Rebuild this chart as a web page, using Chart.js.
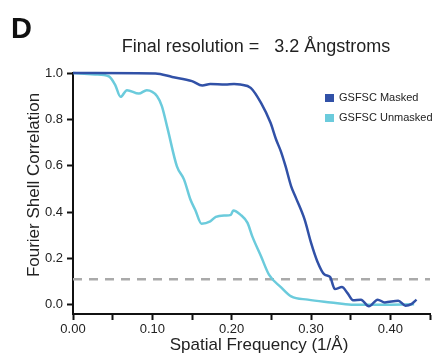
<!DOCTYPE html>
<html>
<head>
<meta charset="utf-8">
<script src="https://cdn.jsdelivr.net/npm/chart.js@4.4.1/dist/chart.umd.min.js"></script>
<style>
    html, body { margin: 0; padding: 0; background: #fff; }
    #chartBox { width: 434px; height: 355px; position: relative; }
</style>
</head>
<body>
<div id="chartBox"><canvas id="fscChart"></canvas></div>
<script>
// FSC curves
const maskedFreq = [0, 0.028, 0.104, 0.125, 0.150, 0.163, 0.173, 0.192, 0.203, 0.211, 0.224, 0.237, 0.249, 0.256, 0.262, 0.268, 0.275, 0.281, 0.292, 0.300, 0.308, 0.317, 0.324, 0.330, 0.339, 0.346, 0.353, 0.363, 0.373, 0.384, 0.393, 0.410, 0.419, 0.427, 0.433];
const maskedFsc = [1.0, 1.0, 0.998, 0.983, 0.965, 0.946, 0.952, 0.950, 0.953, 0.950, 0.936, 0.871, 0.785, 0.713, 0.662, 0.597, 0.511, 0.461, 0.367, 0.268, 0.187, 0.130, 0.120, 0.068, 0.076, 0.050, 0.019, 0.022, -0.007, 0.022, 0.010, 0.017, -0.004, 0.004, 0.022];

const unmaskedFreq = [0, 0.028, 0.045, 0.053, 0.060, 0.068, 0.083, 0.093, 0.106, 0.112, 0.119, 0.131, 0.140, 0.148, 0.154, 0.162, 0.173, 0.180, 0.192, 0.199, 0.202, 0.211, 0.220, 0.226, 0.237, 0.247, 0.262, 0.275, 0.296, 0.325, 0.351, 0.389, 0.430];
const unmaskedFsc = [1.0, 0.994, 0.986, 0.950, 0.897, 0.926, 0.911, 0.926, 0.900, 0.857, 0.763, 0.597, 0.540, 0.454, 0.410, 0.350, 0.360, 0.379, 0.385, 0.388, 0.407, 0.389, 0.353, 0.295, 0.209, 0.130, 0.076, 0.036, 0.022, 0.010, 0.000, 0.000, 0.002];

// dashed cutoff line
const cutoffFsc = 0.11;

const xTicks = [0, 0.05, 0.10, 0.15, 0.20, 0.25, 0.30, 0.35, 0.40, 0.45];
const yTicks = [0, 0.2, 0.4, 0.6, 0.8, 1.0];

const seriesNames = ['GSFSC Masked', 'GSFSC Unmasked'];
const seriesColors = ['#3151a7', '#6bcbdc'];

const FONT = '"Liberation Sans", Arial, sans-serif';

function toPoints(xs, ys) {
    return xs.map((x, i) => ({ x: x, y: ys[i] }));
}

// title, panel letter, axis titles and legend
const textPlugin = {
    id: 'textPlugin',
    afterDraw(chart) {
        const ctx = chart.ctx;
        ctx.save();
        ctx.fillStyle = '#111';

        ctx.font = 'bold 29px ' + FONT;
        ctx.textAlign = 'left';
        ctx.textBaseline = 'alphabetic';
        ctx.fillText('D', 11, 38);

        ctx.fillStyle = '#222';
        ctx.font = '18px ' + FONT;
        ctx.textAlign = 'center';
        ctx.fillText('Final resolution =   3.2 Ångstroms', 256, 52);

        ctx.font = '17px ' + FONT;
        ctx.fillText('Spatial Frequency (1/Å)', 259, 350);

        ctx.save();
        ctx.translate(39, 185);
        ctx.rotate(-Math.PI / 2);
        ctx.fillText('Fourier Shell Correlation', 0, 0);
        ctx.restore();

        // legend
        ctx.font = '11px ' + FONT;
        ctx.textAlign = 'left';
        ctx.textBaseline = 'middle';
        seriesNames.forEach((name, i) => {
            const y = 98 + i * 20;
            ctx.fillStyle = seriesColors[i];
            ctx.fillRect(325, y - 4, 9, 8);
            ctx.fillStyle = '#222';
            ctx.fillText(name, 339, y);
        });
        ctx.restore();
    }
};

function initializeChart() {
    const fscChart = new Chart(document.getElementById('fscChart'), {
        type: 'line',
        data: {
            datasets: [{
                label: seriesNames[0],
                data: toPoints(maskedFreq, maskedFsc),
                borderColor: seriesColors[0],
                borderWidth: 2.5,
                order: 1
            }, {
                label: seriesNames[1],
                data: toPoints(unmaskedFreq, unmaskedFsc),
                borderColor: seriesColors[1],
                borderWidth: 2.5,
                order: 2
            }, {
                label: 'cutoff',
                data: toPoints([0, 0.45], [cutoffFsc, cutoffFsc]),
                borderColor: '#aaaaaa',
                borderWidth: 2.5,
                borderDash: [9, 7],
                order: 3
            }]
        },
        options: {
            responsive: true,
            maintainAspectRatio: false,
            animation: false,
            devicePixelRatio: 1,
            layout: { padding: { top: 73, right: 4, left: 0, bottom: 0 } },
            elements: {
                point: { radius: 0 },
                line: { cubicInterpolationMode: 'monotone', fill: false }
            },
            datasets: { line: { clip: false } },
            plugins: {
                legend: { display: false },
                tooltip: { enabled: false }
            },
            scales: {
                x: {
                    type: 'linear',
                    min: 0,
                    max: 0.45,
                    afterBuildTicks: scale => { scale.ticks = xTicks.map(v => ({ value: v })); },
                    afterFit: scale => { scale.height = 41; },
                    border: { display: true, color: '#111', width: 2 },
                    grid: { drawOnChartArea: false, color: '#111', tickLength: 6, tickWidth: 2 },
                    ticks: {
                        autoSkip: false,
                        maxRotation: 0,
                        padding: 2,
                        color: '#222',
                        font: { family: FONT, size: 13 },
                        callback: (v, i) => (i % 2 === 0 && i < 9) ? Number(v).toFixed(2) : ''
                    }
                },
                y: {
                    min: -0.04,
                    max: 1.0,
                    afterBuildTicks: scale => { scale.ticks = yTicks.map(v => ({ value: v })); },
                    afterFit: scale => { scale.width = 73; },
                    border: { display: true, color: '#111', width: 2 },
                    grid: { drawOnChartArea: false, color: '#111', tickLength: 6, tickWidth: 2 },
                    ticks: {
                        padding: 4,
                        color: '#222',
                        font: { family: FONT, size: 13 },
                        callback: v => Number(v).toFixed(1)
                    }
                }
            }
        },
        plugins: [textPlugin]
    });
}

// 차트 그리기
initializeChart();
</script>
</body>
</html>
